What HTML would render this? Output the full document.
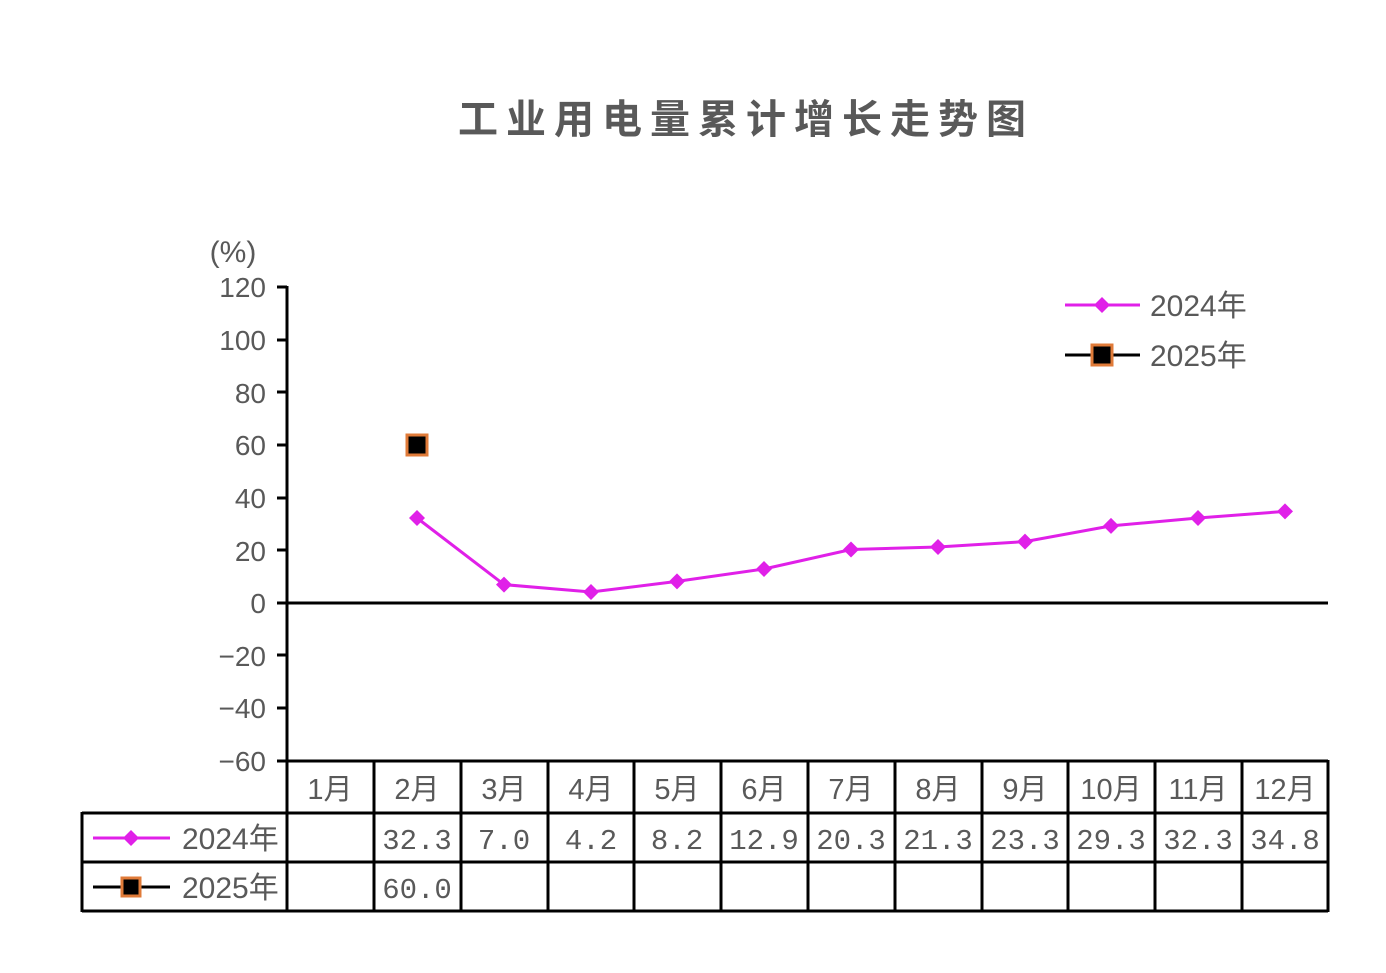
<!DOCTYPE html>
<html><head><meta charset="utf-8"><style>
body{margin:0;background:#fff}
text{font-family:"Liberation Sans","Noto Sans CJK SC",sans-serif;fill:#595959}
text.m{font-family:"Liberation Mono","Noto Sans CJK SC",monospace}
</style></head><body>
<svg width="1386" height="968" xmlns="http://www.w3.org/2000/svg">
<text x="746" y="133" font-size="40" font-weight="bold" text-anchor="middle" letter-spacing="8">工业用电量累计增长走势图</text>
<text x="233" y="262" font-size="30" text-anchor="middle">(%)</text>
<g font-size="28" text-anchor="end">
<text x="266" y="297">120</text><text x="266" y="350">100</text><text x="266" y="403">80</text>
<text x="266" y="455">60</text><text x="266" y="508">40</text><text x="266" y="561">20</text>
<text x="266" y="613">0</text><text x="266" y="666">−20</text><text x="266" y="718">−40</text>
<text x="266" y="771">−60</text>
</g>
<g stroke="#000" stroke-width="3" fill="none">
<line x1="287" y1="286" x2="287" y2="912"/>
<path d="M277 287H287M277 340H287M277 392H287M277 445H287M277 498H287M277 550H287M277 655H287M277 708H287M277 761H287"/>
<line x1="277" y1="603" x2="1328" y2="603"/>
<path d="M287 761H1328M82 813H1328M82 862H1328M82 911H1328M82 812V912M1328 760V912"/>
<path d="M374 761V911M461 761V911M548 761V911M634 761V911M721 761V911M808 761V911M895 761V911M982 761V911M1068 761V911M1155 761V911M1242 761V911"/>
</g>
<polyline fill="none" stroke="#e020e8" stroke-width="3" points="417,518 504,584.6 591,592 677,581.4 764,569 851,549.5 938,547 1025,541.6 1111,525.9 1198,518 1285,511.4"/>
<g fill="#e020e8">
<path d="M417 510l8 8-8 8-8-8z"/><path d="M504 576.6l8 8-8 8-8-8z"/><path d="M591 584l8 8-8 8-8-8z"/>
<path d="M677 573.4l8 8-8 8-8-8z"/><path d="M764 561l8 8-8 8-8-8z"/><path d="M851 541.5l8 8-8 8-8-8z"/>
<path d="M938 539l8 8-8 8-8-8z"/><path d="M1025 533.6l8 8-8 8-8-8z"/><path d="M1111 517.9l8 8-8 8-8-8z"/>
<path d="M1198 510l8 8-8 8-8-8z"/><path d="M1285 503.4l8 8-8 8-8-8z"/>
</g>
<rect x="407" y="435" width="20" height="20" fill="#000" stroke="#e07b39" stroke-width="3"/>
<line x1="1065" y1="305" x2="1140" y2="305" stroke="#e020e8" stroke-width="3"/>
<path d="M1102 297l8 8-8 8-8-8z" fill="#e020e8"/>
<text x="1150" y="316" font-size="30">2024年</text>
<line x1="1065" y1="355" x2="1140" y2="355" stroke="#000" stroke-width="3"/>
<rect x="1092" y="345" width="20" height="20" fill="#000" stroke="#e07b39" stroke-width="3"/>
<text x="1150" y="366" font-size="30">2025年</text>
<g font-size="29" text-anchor="middle">
<text x="330" y="799">1月</text><text x="417" y="799">2月</text><text x="504" y="799">3月</text>
<text x="591" y="799">4月</text><text x="677" y="799">5月</text><text x="764" y="799">6月</text>
<text x="851" y="799">7月</text><text x="938" y="799">8月</text><text x="1025" y="799">9月</text>
<text x="1111" y="799">10月</text><text x="1198" y="799">11月</text><text x="1285" y="799">12月</text>
<text class="m" x="417" y="849">32.3</text><text class="m" x="504" y="849">7.0</text><text class="m" x="591" y="849">4.2</text>
<text class="m" x="677" y="849">8.2</text><text class="m" x="764" y="849">12.9</text><text class="m" x="851" y="849">20.3</text>
<text class="m" x="938" y="849">21.3</text><text class="m" x="1025" y="849">23.3</text><text class="m" x="1111" y="849">29.3</text>
<text class="m" x="1198" y="849">32.3</text><text class="m" x="1285" y="849">34.8</text>
<text class="m" x="417" y="898">60.0</text>
</g>
<line x1="93" y1="838" x2="170" y2="838" stroke="#e020e8" stroke-width="3"/>
<path d="M131 830l8 8-8 8-8-8z" fill="#e020e8"/>
<text x="182" y="849" font-size="30">2024年</text>
<line x1="93" y1="887" x2="170" y2="887" stroke="#000" stroke-width="3"/>
<rect x="122" y="878" width="18" height="18" fill="#000" stroke="#e07b39" stroke-width="3"/>
<text x="182" y="898" font-size="30">2025年</text>
</svg>
</body></html>
